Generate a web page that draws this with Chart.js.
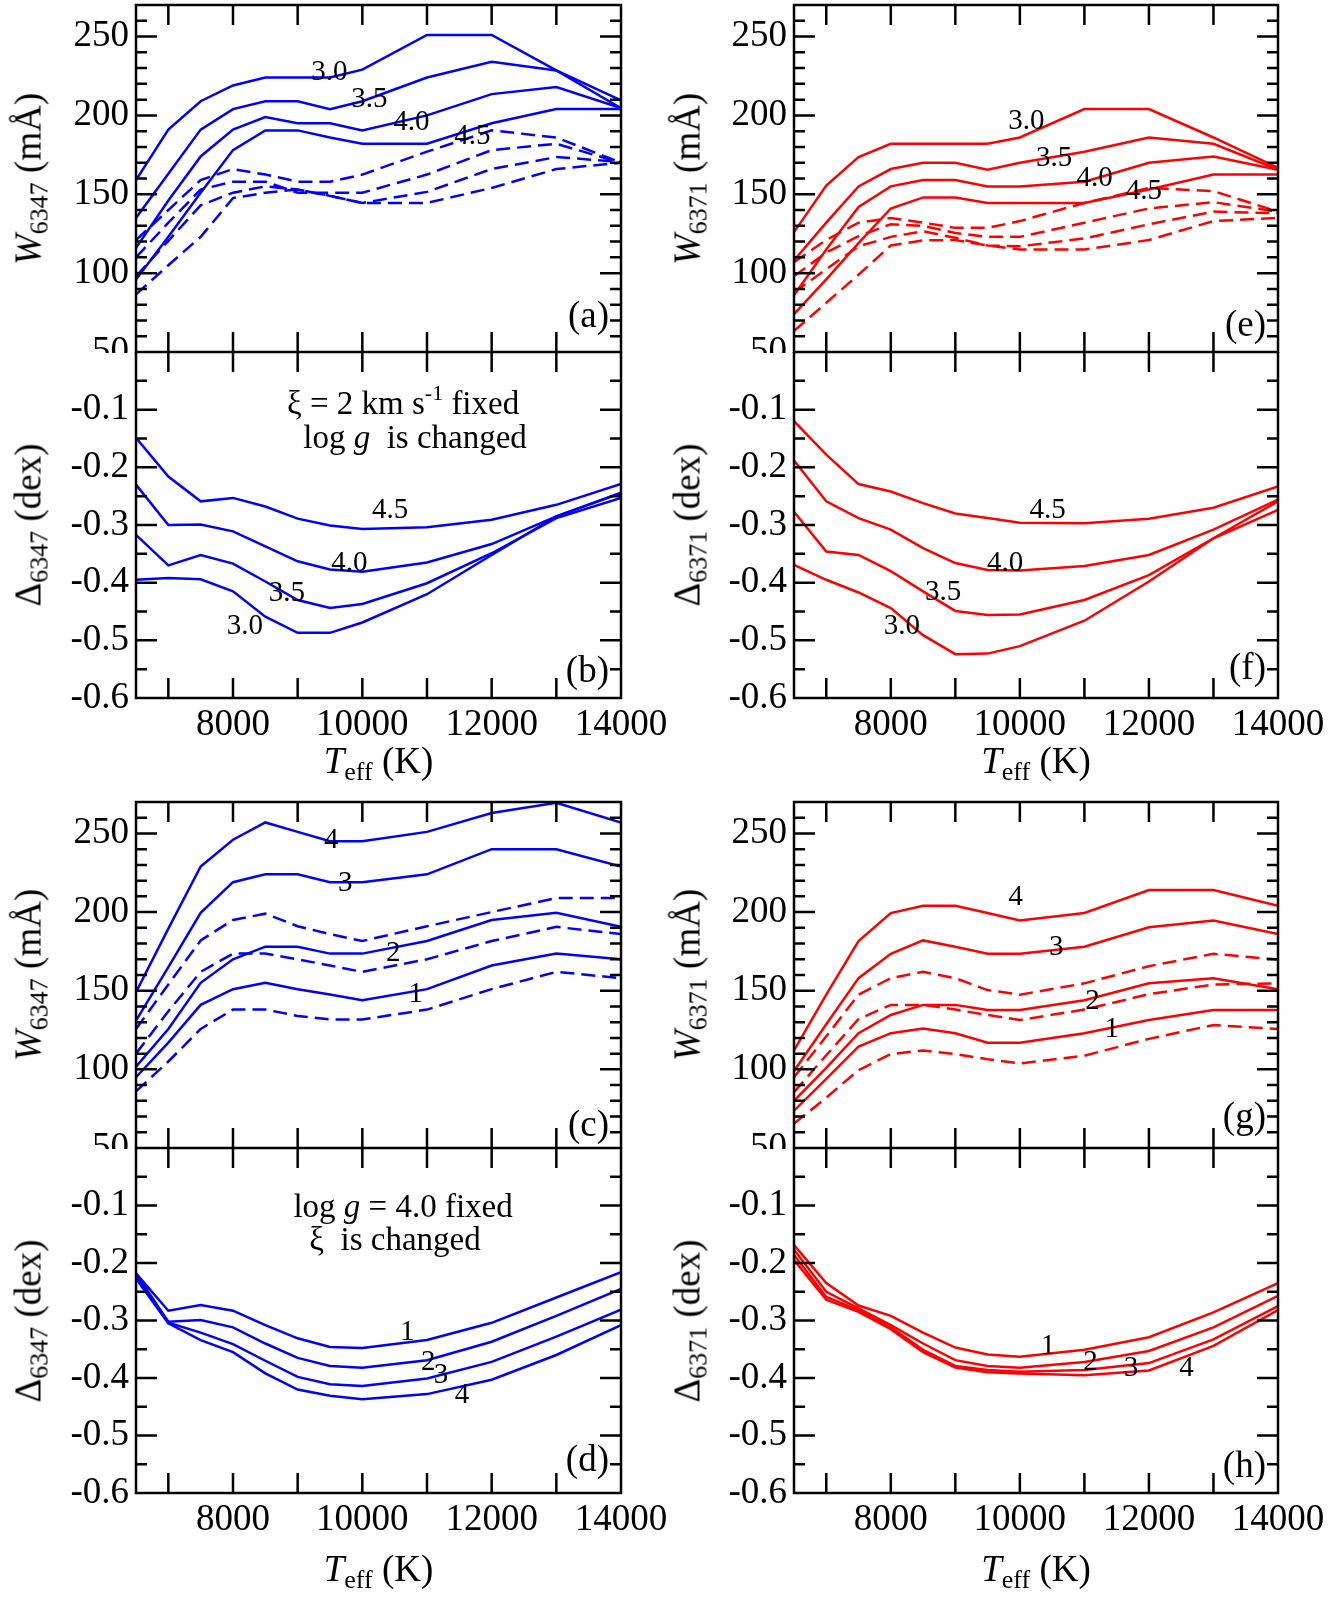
<!DOCTYPE html>
<html>
<head>
<meta charset="utf-8">
<script src="https://cdn.jsdelivr.net/npm/chart.js@4.4.1/dist/chart.umd.min.js"></script>
<style>
body { margin: 0; background: #fff; }
#fig { position: relative; width: 1329px; height: 1597px; overflow: hidden;
       font-family: "Liberation Serif", "Times New Roman", serif; }
#fig canvas { position: absolute; }
.ttl { position: absolute; font-size: 37px; line-height: 1; white-space: nowrap; color: #000; }
.ttl sub { font-size: 26px; vertical-align: -7px; line-height: 0; }
</style>
</head>
<body>
<div id="fig"></div>
<script>
// effective temperatures of the model grid
var teff = [6500, 7000, 7500, 8000, 8500, 9000, 9500, 10000, 11000, 12000, 13000, 14000];

// tick labels
var xTickLabels = [8000, 10000, 12000, 14000];
var xTickMarks = [7000, 8000, 9000, 10000, 11000, 12000, 13000];
var wTicks = [50, 100, 150, 200, 250];
var dTicks = [-0.6, -0.5, -0.4, -0.3, -0.2, -0.1];

// (a) W6347, xi = 2 fixed, log g = 3.0 .. 4.5 (solid) and dashed
var a30 = [159, 191, 209, 219, 224, 224, 224, 229, 251, 251, 228.5, 209.5];
var a35 = [135, 163, 191, 204, 209, 209, 204, 209, 224, 234, 228.5, 204.6];
var a40 = [116, 146, 174, 191, 199, 195, 195, 190.5, 200, 213.5, 218, 204.6];
var a45 = [96, 123, 151, 178, 190.5, 190.5, 186, 182, 182, 195, 204, 204];
var aD1 = [121, 140, 159, 166, 162.5, 158, 158, 162.5, 177, 190.5, 186, 170];
var aD2 = [110, 132, 153, 158, 158, 151, 151, 151, 162.5, 178, 182, 170];
var aD3 = [98, 120.5, 143, 151, 155, 153, 149, 144.5, 151.5, 166, 173.6, 170.5];
var aD4 = [86.5, 105, 123, 147.6, 151, 153, 149, 144.5, 144.5, 154, 166, 170];

// (b) Delta6347
var b30 = [-0.395, -0.392, -0.394, -0.415, -0.459, -0.487, -0.487, -0.469, -0.420, -0.352, -0.285, -0.245];
var b35 = [-0.317, -0.370, -0.352, -0.367, -0.398, -0.430, -0.444, -0.437, -0.401, -0.349, -0.288, -0.253];
var b40 = [-0.230, -0.300, -0.299, -0.311, -0.337, -0.363, -0.377, -0.381, -0.365, -0.333, -0.285, -0.244];
var b45 = [-0.149, -0.216, -0.259, -0.253, -0.268, -0.289, -0.301, -0.307, -0.304, -0.291, -0.265, -0.229];

// (e) W6371
var e30 = [126, 155.5, 173.6, 182, 182, 182, 182, 186, 204, 204, 186, 166.7];
var e35 = [108, 132, 155, 166, 170, 170, 165.6, 170, 177, 186, 182, 165.6];
var e40 = [86, 115, 142, 155, 159, 159, 155, 155, 158, 170, 174, 165.6];
var e45 = [74, 96, 119, 141, 148, 148, 144.5, 144.5, 144.5, 153, 162.5, 162.5];
var eD1 = [107, 121, 132, 135, 132, 128.7, 128.7, 133, 144.5, 154, 152, 139];
var eD2 = [98, 113, 123.4, 131, 130, 125.5, 123, 123, 132, 141, 145, 139];
var eD3 = [87.7, 102.5, 117, 123, 126.6, 122.4, 117.5, 117, 122, 131, 139, 138];
var eD4 = [63.3, 81.2, 99, 117.5, 120.8, 121, 117.5, 115, 115, 121, 133, 135];

// (f) Delta6371
var f30 = [-0.369, -0.395, -0.417, -0.444, -0.491, -0.524, -0.523, -0.510, -0.466, -0.398, -0.323, -0.274];
var f35 = [-0.277, -0.346, -0.352, -0.380, -0.415, -0.449, -0.456, -0.455, -0.430, -0.387, -0.323, -0.259];
var f40 = [-0.188, -0.259, -0.288, -0.308, -0.340, -0.366, -0.378, -0.379, -0.371, -0.352, -0.308, -0.256];
var f45 = [-0.120, -0.178, -0.229, -0.242, -0.262, -0.280, -0.288, -0.296, -0.297, -0.289, -0.270, -0.233];

// (c) W6347, log g = 4.0 fixed, xi = 1 .. 4
var c1 = [95, 117, 141, 151, 155, 151, 147.6, 144, 151, 166, 173.6, 170];
var c2 = [101.7, 125.7, 155, 170, 178, 178, 173.6, 173.6, 181.6, 195, 199.5, 190.6];
var c3 = [131, 165, 199.5, 219, 224, 224, 219, 219, 224, 240, 240, 229];
var c4 = [149, 189.5, 229, 246, 257, 251, 245, 245, 251, 263, 269.5, 257];
var cD1 = [125.7, 154, 182, 195, 199, 191, 186, 181.6, 191, 200, 209, 209];
var cD2 = [110, 137, 162, 173.6, 173.6, 170, 166, 162, 170, 181.6, 190.6, 186];
var cD3 = [86, 105, 125.7, 138, 138, 134, 131.7, 131.7, 138, 151, 162, 158];

// (d) Delta6347
var d1 = [-0.218, -0.283, -0.273, -0.283, -0.308, -0.331, -0.346, -0.348, -0.334, -0.304, -0.260, -0.216];
var d2 = [-0.218, -0.302, -0.299, -0.312, -0.340, -0.365, -0.379, -0.382, -0.369, -0.337, -0.292, -0.245];
var d3 = [-0.224, -0.304, -0.321, -0.341, -0.370, -0.398, -0.411, -0.414, -0.401, -0.372, -0.328, -0.281];
var d4 = [-0.227, -0.305, -0.334, -0.355, -0.392, -0.420, -0.431, -0.437, -0.428, -0.403, -0.360, -0.308];

// (g) W6371
var g1 = [73.7, 94, 114.5, 123, 126, 123, 117, 117, 123, 131.4, 137.7, 137.7];
var g2 = [80, 101, 123, 134.6, 141, 141, 137.7, 137.7, 144, 154.7, 158, 151];
var g3 = [99, 128.7, 158, 173.5, 182, 178, 173.5, 173.5, 178, 190.4, 194.7, 186];
var g4 = [112, 147.5, 181.6, 199.4, 204, 204, 199.4, 194.7, 199.4, 214, 214, 204];
var gD1 = [95, 121, 147.5, 158, 162, 158, 150.4, 147.5, 154.7, 165.6, 173.5, 169.8];
var gD2 = [85.5, 109, 132, 141, 141, 138, 134.6, 131.4, 138, 147.8, 154, 154.7];
var gD3 = [65.5, 82, 99.5, 109.7, 112, 109.7, 106.5, 103.8, 108.7, 119.4, 128.2, 125.7];

// (h) Delta6371
var h1 = [-0.169, -0.235, -0.274, -0.292, -0.321, -0.347, -0.359, -0.363, -0.351, -0.329, -0.286, -0.235];
var h2 = [-0.177, -0.250, -0.279, -0.308, -0.340, -0.369, -0.379, -0.382, -0.372, -0.353, -0.312, -0.257];
var h3 = [-0.186, -0.259, -0.282, -0.312, -0.351, -0.379, -0.386, -0.389, -0.386, -0.374, -0.333, -0.275];
var h4 = [-0.195, -0.264, -0.285, -0.315, -0.355, -0.382, -0.390, -0.392, -0.395, -0.387, -0.344, -0.282];

var FONT = '"Liberation Serif", "Times New Roman", serif';
var BLUE = '#0000ff', RED = '#ff0000';
var fig = document.getElementById('fig');

// page geometry: plot columns and rows
var cols = [
    {L: 136, R: 621, c0: 0, cw: 680, tx: 28},
    {L: 794, R: 1278, c0: 650, cw: 679, tx: 687}
];
var rows = [
    {T: 5, B: 352, ct: 0, cb: 353, kind: 'W'},
    {T: 352, B: 698, ct: 352, cb: 800, kind: 'D', titleY: 760},
    {T: 802, B: 1148, ct: 790, cb: 1149, kind: 'W'},
    {T: 1148, B: 1493, ct: 1148, cb: 1597, kind: 'D', titleY: 1568}
];

function drawRich(ctx, parts, cx, cy) {
    var w = 0;
    parts.forEach(function(p){ ctx.font = p.f; w += ctx.measureText(p.t).width; });
    var x = cx - w / 2;
    ctx.textAlign = 'left';
    ctx.textBaseline = 'alphabetic';
    parts.forEach(function(p){
        ctx.font = p.f;
        ctx.fillText(p.t, x, cy + (p.dy || 0));
        x += ctx.measureText(p.t).width;
    });
}

var framePlugin = {
    id: 'frame',
    afterDraw: function(chart, args, o) {
        var ctx = chart.ctx, a = chart.chartArea;
        var x = chart.scales.x, y = chart.scales.y;
        ctx.save();
        ctx.strokeStyle = '#000';
        ctx.lineWidth = 2.5;
        ctx.strokeRect(a.left, a.top, a.right - a.left, a.bottom - a.top);
        ctx.beginPath();
        xTickMarks.forEach(function(v){
            var px = x.getPixelForValue(v);
            ctx.moveTo(px, a.top); ctx.lineTo(px, a.top + 20);
            ctx.moveTo(px, a.bottom); ctx.lineTo(px, a.bottom - 20);
        });
        var step = o.minor, n = Math.round((y.max - y.min) / step);
        for (var i = 1; i < n; i++) {
            var v = y.min + i * step;
            var major = o.major.some(function(m){ return Math.abs(m - v) < 1e-6; });
            var len = major ? 21 : 11;
            var py = y.getPixelForValue(v);
            ctx.moveTo(a.left, py); ctx.lineTo(a.left + len, py);
            ctx.moveTo(a.right, py); ctx.lineTo(a.right - len, py);
        }
        ctx.stroke();

        ctx.fillStyle = '#000';
        ctx.font = '29px ' + FONT;
        ctx.textAlign = 'center';
        ctx.textBaseline = 'middle';
        o.labels.forEach(function(l){
            ctx.fillText(l[2], x.getPixelForValue(l[0]), y.getPixelForValue(l[1]));
        });
        (o.notes || []).forEach(function(nt){
            drawRich(ctx, nt.parts, x.getPixelForValue(nt.x), y.getPixelForValue(nt.y));
        });
        ctx.font = '37px ' + FONT;
        ctx.textAlign = 'right';
        ctx.textBaseline = 'alphabetic';
        ctx.fillText(o.letter, a.right - 12, a.bottom - o.letterDy);
        ctx.restore();
    }
};

function makePanel(p) {
    var col = cols[p.col], row = rows[p.row];
    var cw = col.cw, ch = row.cb - row.ct;
    var L = col.L - col.c0, R = col.R - col.c0;
    var T = row.T - row.ct, B = row.B - row.ct;
    var isW = row.kind === 'W';
    var cv = document.createElement('canvas');
    cv.width = cw; cv.height = ch;
    cv.style.left = col.c0 + 'px';
    cv.style.top = row.ct + 'px';
    cv.style.width = cw + 'px';
    cv.style.height = ch + 'px';
    fig.appendChild(cv);

    var sets = [];
    p.solid.forEach(function(s){ sets.push({v: s, dash: []}); });
    (p.dashed || []).forEach(function(s){ sets.push({v: s, dash: [14, 7]}); });

    new Chart(cv, {
        type: 'line',
        data: {
            datasets: sets.map(function(s){
                return {
                    data: teff.map(function(t, i){ return {x: t, y: s.v[i]}; }),
                    borderColor: p.color,
                    borderWidth: 2.5,
                    borderDash: s.dash,
                    pointRadius: 0,
                    tension: 0,
                    fill: false
                };
            })
        },
        options: {
            responsive: false,
            animation: false,
            devicePixelRatio: 1,
            layout: {autoPadding: false, padding: {left: 0, top: T, right: cw - R, bottom: isW ? ch - B : 0}},
            plugins: {
                legend: {display: false},
                tooltip: {enabled: false},
                frame: {
                    major: isW ? wTicks : dTicks,
                    minor: isW ? 10 : 0.05,
                    labels: p.labels,
                    notes: p.notes,
                    letter: p.letter,
                    letterDy: p.letterDy
                }
            },
            scales: {
                x: {
                    type: 'linear', min: 6500, max: 14000,
                    display: !isW,
                    grid: {display: false, drawTicks: false}, border: {display: false},
                    afterBuildTicks: function(s){ s.ticks = xTickLabels.map(function(v){ return {value: v}; }); },
                    afterFit: function(s){
                        if (!isW) s.height = ch - B;
                        s.paddingLeft = 0; s.paddingRight = 0;
                    },
                    ticks: {font: {family: FONT, size: 37}, color: '#000', padding: 5,
                            maxRotation: 0, autoSkip: false,
                            callback: function(v){ return String(v); }}
                },
                y: {
                    type: 'linear',
                    min: isW ? 50 : -0.6, max: isW ? 270 : 0,
                    grid: {display: false, drawTicks: false}, border: {display: false},
                    afterBuildTicks: function(s){ s.ticks = (isW ? wTicks : dTicks).map(function(v){ return {value: v}; }); },
                    afterFit: function(s){ s.width = L; s.paddingTop = 0; s.paddingBottom = 0; },
                    ticks: {font: {family: FONT, size: 37}, color: '#000', padding: 7, autoSkip: false,
                            callback: function(v){ return isW ? String(v) : v.toFixed(1); }}
                }
            }
        },
        plugins: [framePlugin]
    });

    // axis titles as html text
    var yt = document.createElement('div');
    yt.className = 'ttl';
    yt.innerHTML = p.yTitle;
    yt.style.left = col.tx + 'px';
    yt.style.top = ((row.T + row.B) / 2) + 'px';
    yt.style.transform = 'translate(-50%, -50%) rotate(-90deg)';
    fig.appendChild(yt);
    if (!isW) {
        var xt = document.createElement('div');
        xt.className = 'ttl';
        xt.innerHTML = '<i>T</i><sub>eff</sub> (K)';
        xt.style.left = ((col.L + col.R) / 2) + 'px';
        xt.style.top = row.titleY + 'px';
        xt.style.transform = 'translate(-50%, -50%)';
        fig.appendChild(xt);
    }
}

var NF = '33px ' + FONT, NI = 'italic 33px ' + FONT, NS = '22px ' + FONT;

makePanel({col: 0, row: 0, color: BLUE, solid: [a30, a35, a40, a45], dashed: [aD1, aD2, aD3, aD4],
    yTitle: '<i>W</i><sub>6347</sub> (mÅ)', letter: '(a)', letterDy: 25,
    labels: [[9490, 227, '3.0'], [10110, 210, '3.5'], [10760, 195.6, '4.0'], [11700, 186.7, '4.5']]});
makePanel({col: 0, row: 1, color: BLUE, solid: [b30, b35, b40, b45],
    yTitle: 'Δ<sub>6347</sub> (dex)', letter: '(b)', letterDy: 16,
    labels: [[10430, -0.274, '4.5'], [9800, -0.367, '4.0'], [8835, -0.418, '3.5'], [8183, -0.476, '3.0']],
    notes: [
        {x: 10630, y: -0.1075, parts: [{t: 'ξ = 2 km s', f: NF}, {t: '-1', f: NS, dy: -14}, {t: ' fixed', f: NF}]},
        {x: 10815, y: -0.1665, parts: [{t: 'log ', f: NF}, {t: 'g', f: NI}, {t: '  is changed', f: NF}]}
    ]});
makePanel({col: 1, row: 0, color: RED, solid: [e30, e35, e40, e45], dashed: [eD1, eD2, eD3, eD4],
    yTitle: '<i>W</i><sub>6371</sub> (mÅ)', letter: '(e)', letterDy: 16,
    labels: [[10100, 196, '3.0'], [10530, 173, '3.5'], [11160, 160.3, '4.0'], [11920, 152, '4.5']]});
makePanel({col: 1, row: 1, color: RED, solid: [f30, f35, f40, f45],
    yTitle: 'Δ<sub>6371</sub> (dex)', letter: '(f)', letterDy: 19,
    labels: [[10430, -0.274, '4.5'], [9770, -0.367, '4.0'], [8810, -0.417, '3.5'], [8170, -0.476, '3.0']]});
makePanel({col: 0, row: 2, color: BLUE, solid: [c1, c2, c3, c4], dashed: [cD1, cD2, cD3],
    yTitle: '<i>W</i><sub>6347</sub> (mÅ)', letter: '(c)', letterDy: 12,
    labels: [[9520, 245.8, '4'], [9735, 218, '3'], [10480, 174, '2'], [10825, 147.7, '1']]});
makePanel({col: 0, row: 3, color: BLUE, solid: [d1, d2, d3, d4],
    yTitle: 'Δ<sub>6347</sub> (dex)', letter: '(d)', letterDy: 22,
    labels: [[10695, -0.321, '1'], [11021, -0.372, '2'], [11217, -0.395, '3'], [11543, -0.43, '4']],
    notes: [
        {x: 10630, y: -0.1198, parts: [{t: 'log ', f: NF}, {t: 'g', f: NI}, {t: ' = 4.0 fixed', f: NF}]},
        {x: 10505, y: -0.178, parts: [{t: 'ξ  is changed', f: NF}]}
    ]});
makePanel({col: 1, row: 2, color: RED, solid: [g1, g2, g3, g4], dashed: [gD1, gD2, gD3],
    yTitle: '<i>W</i><sub>6371</sub> (mÅ)', letter: '(g)', letterDy: 20,
    labels: [[9937, 209.2, '4'], [10565, 177.8, '3'], [11127, 143.4, '2'], [11424, 125.2, '1']]});
makePanel({col: 1, row: 3, color: RED, solid: [h1, h2, h3, h4],
    yTitle: 'Δ<sub>6371</sub> (dex)', letter: '(h)', letterDy: 16,
    labels: [[10435, -0.3455, '1'], [11096, -0.372, '2'], [11724, -0.383, '3'], [12583, -0.383, '4']]});
</script>
</body>
</html>
